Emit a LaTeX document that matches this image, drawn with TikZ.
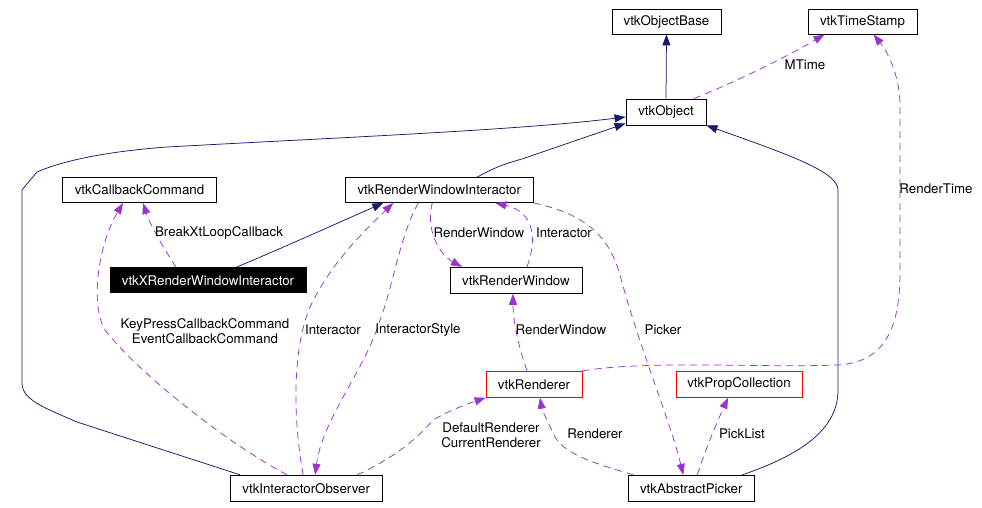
\documentclass[tikz,border=0pt]{standalone}
\usepackage{fontspec}
\setmainfont{TeX Gyre Heros}
\usetikzlibrary{arrows.meta}
\definecolor{navy}{RGB}{25,25,112}
\definecolor{usecol}{RGB}{154,50,205}
\begin{document}
\begin{tikzpicture}[x=1pt,y=-1pt,
  font=\fontsize{13.3}{15}\selectfont,
  cls/.style={draw=black,line width=0.9pt,rectangle,inner sep=0pt,minimum height=25pt,fill=white},
  redcls/.style={cls,draw=red},
  inh/.style={draw=navy,line width=0.75pt,-{Triangle[length=11pt,width=8pt]},color=navy},
  use/.style={draw=usecol,line width=0.75pt,dash pattern=on 7pt off 5pt,-{Triangle[length=11pt,width=8pt]},color=usecol},
  lbl/.style={inner sep=0pt,text=black,align=center}]
\useasboundingbox[fill=white] (0,0) rectangle (982,508);

% nodes
\node[cls,minimum width=109pt] (base) at (666.5,21.5) {vtkObjectBase};
\node[cls,minimum width=109pt] (ts) at (862.5,21.5) {vtkTimeStamp};
\node[cls,minimum width=80pt,minimum height=26pt] (obj) at (666,112) {vtkObject};
\node[cls,minimum width=154pt] (cb) at (139.5,190) {vtkCallbackCommand};
\node[cls,minimum width=188pt] (rwi) at (439.3,190) {vtkRenderWindowInteractor};
\node[cls,fill=black,text=white,minimum width=196pt] (xrwi) at (208,280.3) {vtkXRenderWindowInteractor};
\node[cls,minimum width=132pt,minimum height=26pt] (rw) at (516,280.3) {vtkRenderWindow};
\node[redcls,minimum width=96pt,minimum height=26pt] (ren) at (534,384.3) {vtkRenderer};
\node[redcls,minimum width=126pt,minimum height=26pt] (pc) at (739,384.3) {vtkPropCollection};
\node[cls,minimum width=152pt,minimum height=26pt] (io) at (306.2,488.3) {vtkInteractorObserver};
\node[cls,minimum width=126pt,minimum height=26pt] (ap) at (691.3,488.3) {vtkAbstractPicker};

% inheritance (solid navy)
\draw[inh] (obj.north) -- (base.south);
\draw[inh] ([xshift=28pt]xrwi.north) .. controls (280,249) and (340,222) .. ([xshift=-56pt]rwi.south);
\draw[inh] ([xshift=38pt]rwi.north) .. controls (490,170) and (500,165) .. (522,159) -- ([yshift=2pt]obj.south west);
\draw[inh] ([xshift=-66pt]io.north) -- (77,422) .. controls (45,408) and (22,400) .. (22,383) -- (22,190) -- (37,172) .. controls (60,162) and (100,152) .. (167,147) .. controls (350,137) and (520,130) .. ([yshift=-5pt]obj.west);
\draw[inh] ([xshift=51pt]ap.north) .. controls (800,455) and (838,430) .. (838,390) -- (838,190) .. controls (838,172) and (790,155) .. (obj.south east);

% usage (dashed purple)
\draw[use] ([xshift=28pt]obj.north) .. controls (740,80) and (790,55) .. ([xshift=-38pt]ts.south);
\draw[use] (ren.north east) .. controls (650,360) and (760,368) .. (838,365) .. controls (890,362) and (900,320) .. (900,270) -- (900,105) .. controls (900,80) and (890,55) .. ([xshift=11pt]ts.south);
\draw[use] ([xshift=-32pt]xrwi.north) .. controls (165,250) and (150,225) .. ([xshift=3.5pt]cb.south);
\draw[use] ([xshift=-19pt]io.north) .. controls (230,445) and (140,375) .. (105,330) .. controls (90,305) and (98,245) .. ([xshift=-16.5pt]cb.south);
\draw[use] ([xshift=-3pt]io.north) .. controls (293,420) and (292,350) .. (310,307) .. controls (330,265) and (360,235) .. ([xshift=-46pt]rwi.south);
\draw[use] ([xshift=-21pt]rwi.south) .. controls (400,235) and (392,290) .. (380,320) .. controls (365,370) and (322,420) .. ([xshift=9pt]io.north);
\draw[use] ([xshift=-7pt]rwi.south) .. controls (425,230) and (440,255) .. ([xshift=-54pt]rw.north);
\draw[use] ([xshift=11pt]rw.north) .. controls (537,240) and (535,212) .. ([xshift=56pt]rwi.south);
\draw[use] (rwi.south east) .. controls (590,215) and (610,240) .. (620,275) .. controls (640,350) and (670,420) .. ([xshift=-8pt]ap.north);
\draw[use] ([xshift=-7pt]ren.north) .. controls (518,345) and (513,320) .. ([xshift=-3pt]rw.south);
\draw[use] ([xshift=51pt]io.north) .. controls (400,455) and (420,435) .. (433,420) .. controls (450,410) and (470,403) .. (ren.south west);
\draw[use] ([xshift=-58pt]ap.north) .. controls (600,465) and (565,455) .. (555,437) .. controls (547,420) and (542,410) .. ([xshift=6pt]ren.south);
\draw[use] ([xshift=6pt]ap.north) .. controls (705,450) and (718,420) .. ([xshift=-11pt]pc.south);

% labels
\node[lbl] (lmtime) at (805,65) {MTime};
\node[lbl] (lrtime) at (936,189) {RenderTime};
\node[lbl] (lbreak) at (219,233) {BreakXtLoopCallback};
\node[lbl] (lkey) at (205,331) {KeyPressCallbackCommand\\EventCallbackCommand};
\node[lbl] (linter1) at (333,330) {Interactor};
\node[lbl] (lstyle) at (418,330) {InteractorStyle};
\node[lbl] (lrw1) at (479,233) {RenderWindow};
\node[lbl] (linter2) at (564,233) {Interactor};
\node[lbl] (lrw2) at (561,330) {RenderWindow};
\node[lbl] (lpicker) at (663,330) {Picker};
\node[lbl] (ldef) at (491,435) {DefaultRenderer\\CurrentRenderer};
\node[lbl] (lren) at (595,434) {Renderer};
\node[lbl] (lpick) at (742,434) {PickList};
\end{tikzpicture}
\end{document}
